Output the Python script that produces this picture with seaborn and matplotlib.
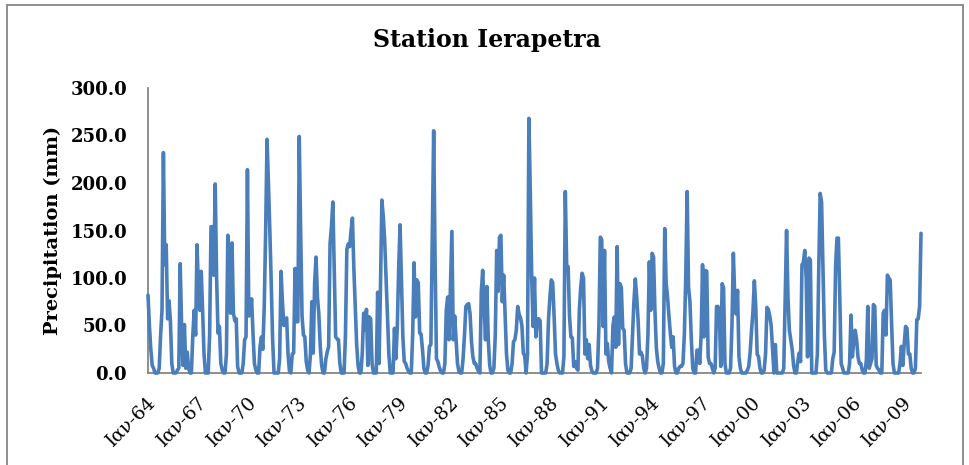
import numpy as np
import pandas as pd
import matplotlib
matplotlib.use("Agg")
import matplotlib.pyplot as plt
import matplotlib.transforms as mtransforms
from matplotlib.patches import Rectangle
import seaborn as sns

# Monthly precipitation at Ierapetra (mm), one row per year, starting January 1964
precip_1964_1973 = [
    82, 50, 25, 8, 5, 0, 0, 0, 5, 40, 66, 232,
    114, 135, 57, 76, 55, 10, 0, 0, 0, 3, 5, 115,
    49, 8, 51, 5, 22, 5, 0, 0, 40, 66, 40, 135,
    90, 66, 107, 66, 20, 0, 0, 0, 40, 154, 154, 103,
    199, 100, 42, 49, 10, 3, 0, 0, 20, 145, 90, 63,
    137, 63, 55, 57, 7, 0, 0, 0, 10, 35, 38, 214,
    60, 70, 78, 41, 10, 3, 0, 0, 28, 38, 25, 70,
    148, 246, 200, 150, 95, 35, 0, 0, 0, 0, 15, 107,
    75, 50, 55, 58, 20, 2, 0, 20, 21, 110, 54, 54,
    249, 150, 60, 40, 38, 12, 3, 0, 20, 75, 21, 95,
]
precip_1974_1983 = [
    122, 80, 62, 28, 8, 0, 0, 15, 22, 28, 136, 154,
    180, 110, 38, 36, 35, 10, 0, 0, 0, 40, 130, 136,
    133, 150, 163, 110, 70, 30, 8, 0, 0, 20, 63, 45,
    67, 8, 59, 57, 10, 0, 0, 0, 85, 10, 90, 182,
    165, 140, 100, 60, 20, 0, 0, 0, 47, 15, 47, 110,
    156, 96, 38, 12, 10, 5, 2, 0, 0, 40, 116, 59,
    98, 95, 42, 41, 25, 5, 0, 0, 8, 28, 30, 140,
    255, 120, 15, 12, 6, 2, 0, 0, 10, 66, 80, 35,
    90, 149, 35, 60, 35, 10, 2, 0, 0, 15, 40, 70,
    72, 73, 62, 33, 17, 10, 10, 5, 2, 0, 85, 108,
]
precip_1984_1993 = [
    70, 35, 91, 35, 8, 0, 0, 5, 40, 129, 86, 143,
    145, 75, 103, 60, 20, 3, 0, 0, 10, 33, 35, 45,
    70, 62, 58, 50, 21, 18, 0, 20, 268, 190, 101, 49,
    100, 38, 57, 57, 55, 0, 0, 0, 0, 10, 56, 80,
    98, 95, 60, 20, 10, 3, 0, 0, 0, 17, 191, 112,
    112, 60, 38, 37, 7, 12, 5, 3, 66, 90, 105, 100,
    20, 35, 15, 30, 8, 2, 0, 0, 0, 5, 49, 143,
    140, 49, 129, 20, 31, 12, 5, 0, 50, 59, 27, 133,
    30, 94, 90, 47, 45, 10, 0, 0, 0, 5, 40, 75,
    99, 80, 55, 20, 22, 18, 5, 0, 5, 40, 117, 66,
]
precip_1994_2003 = [
    126, 122, 66, 27, 12, 5, 0, 0, 10, 152, 95, 80,
    60, 42, 27, 38, 7, 0, 0, 5, 7, 7, 10, 40,
    100, 191, 90, 75, 35, 5, 0, 0, 24, 24, 10, 40,
    114, 38, 108, 107, 17, 10, 10, 5, 0, 5, 70, 70,
    63, 7, 94, 90, 10, 0, 0, 0, 5, 50, 126, 80,
    62, 87, 17, 5, 0, 0, 0, 0, 3, 7, 22, 45,
    65, 97, 70, 20, 17, 5, 0, 0, 3, 20, 69, 67,
    60, 50, 25, 0, 30, 0, 0, 0, 0, 0, 5, 75,
    150, 80, 45, 35, 25, 8, 0, 0, 12, 21, 12, 114,
    116, 129, 100, 17, 121, 119, 0, 0, 0, 0, 20, 110,
]
precip_2004_2010 = [
    189, 180, 110, 40, 3, 0, 0, 0, 0, 15, 22, 112,
    142, 142, 80, 10, 5, 0, 0, 0, 0, 10, 61, 17,
    35, 45, 35, 17, 10, 10, 3, 0, 0, 14, 70, 5,
    10, 15, 72, 70, 8, 5, 3, 0, 0, 63, 66, 40,
    103, 100, 98, 52, 10, 0, 0, 0, 0, 10, 28, 8,
    30, 49, 47, 20, 20, 5, 0, 0, 5, 56, 57, 70,
    147,
]

# Category labels shown every third January
tick_labels = ["Ιαν-64", "Ιαν-67", "Ιαν-70", "Ιαν-73", "Ιαν-76", "Ιαν-79",
               "Ιαν-82", "Ιαν-85", "Ιαν-88", "Ιαν-91", "Ιαν-94", "Ιαν-97",
               "Ιαν-00", "Ιαν-03", "Ιαν-06", "Ιαν-09"]
y_ticks = [0, 50, 100, 150, 200, 250, 300]

precip = (precip_1964_1973 + precip_1974_1983 + precip_1984_1993
          + precip_1994_2003 + precip_2004_2010)
df = pd.DataFrame({"month": np.arange(len(precip)), "precip": precip})

sns.set_style("white")
plt.rcParams["font.family"] = ["DejaVu Serif"]
plt.rcParams["text.color"] = "black"
plt.rcParams["axes.labelcolor"] = "black"
plt.rcParams["xtick.color"] = "black"
plt.rcParams["ytick.color"] = "black"

W, H = 970, 465
fig = plt.figure(figsize=(W / 100, H / 100), dpi=100)
ax = fig.add_axes([148 / W, 1 - 373 / H, (921 - 148) / W, (373 - 88) / H])

sns.lineplot(data=df, x="month", y="precip", ax=ax, color="#4A7EBB",
             linewidth=2.6, clip_on=False, zorder=3)
for ln in ax.lines:
    ln.set_solid_joinstyle("round")
    ln.set_solid_capstyle("round")

ax.set_xlim(0, len(precip) - 1)
ax.set_ylim(0, 300)

axis_grey = "#868686"
for side in ("top", "right"):
    ax.spines[side].set_visible(False)
for side in ("left", "bottom"):
    ax.spines[side].set_color(axis_grey)
    ax.spines[side].set_linewidth(1.3)
    ax.spines[side].set_zorder(2)

ax.set_yticks(y_ticks)
ax.set_yticklabels([f"{v:.1f}" for v in y_ticks], fontsize=13, fontweight="bold")
ax.set_xticks(np.arange(len(tick_labels)) * 36)
ax.set_xticklabels(tick_labels, fontsize=13.5, rotation=45, ha="right",
                   va="center", rotation_mode="anchor")
ax.tick_params(axis="both", length=0)
ax.tick_params(axis="y", pad=15)
ax.tick_params(axis="x", pad=19)
shift = mtransforms.ScaledTranslation(5 / 100, 0, fig.dpi_scale_trans)
for lbl in ax.get_xticklabels():
    lbl.set_transform(lbl.get_transform() + shift)

ax.set_xlabel("")
ax.set_ylabel("Precipitation (mm)", fontsize=14, fontweight="bold")
ax.yaxis.set_label_coords((62 - 148) / (921 - 148), 0.5)

fig.text(486.5 / W, 1 - 40 / H, "Station Ierapetra", ha="center", va="center",
         fontsize=17, fontweight="bold")

# Chart border
fig.add_artist(Rectangle((7 / W, -0.05), (963 - 7) / W, 1.05 - 5 / H,
                         transform=fig.transFigure, fill=False,
                         edgecolor=axis_grey, linewidth=1.3))

fig.savefig("out.png", dpi=100)
